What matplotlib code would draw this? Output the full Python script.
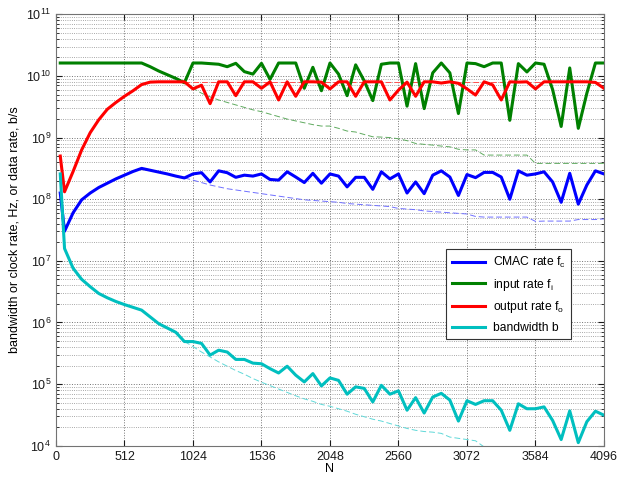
import numpy as np
import matplotlib
matplotlib.use('Agg')
import matplotlib.pyplot as plt
from matplotlib.ticker import LogLocator, NullFormatter

plt.rcParams['font.family'] = ['Liberation Sans', 'DejaVu Sans']
plt.rcParams['mathtext.default'] = 'regular'

## ---------------------------- data (log10 of rate) ---------------------------- ##
N = [32] + [64 * k for k in range(1, 65)]

# CMAC rate f_c
fc_log = [8.10, 7.48, 7.78, 7.99, 8.10, 8.19, 8.26, 8.33, 8.39, 8.45, 8.50,
          8.47, 8.44, 8.41, 8.375, 8.345, 8.41, 8.43, 8.28, 8.46, 8.43,
          8.355, 8.39, 8.375, 8.41, 8.32, 8.31, 8.445, 8.36, 8.27, 8.42,
          8.26, 8.41, 8.375, 8.20, 8.355, 8.355, 8.16, 8.445, 8.33, 8.41,
          8.10, 8.28, 8.09, 8.39, 8.46, 8.36, 8.06, 8.40, 8.35, 8.435,
          8.435, 8.36, 8.00, 8.46, 8.39, 8.41, 8.445, 8.28, 7.95, 8.42,
          7.92, 8.23, 8.46, 8.41]

# input rate f_i
fi_log = [10.21, 10.21, 10.21, 10.21, 10.21, 10.21, 10.21, 10.21, 10.21, 10.21, 10.21,
          10.15, 10.08, 10.02, 9.96, 9.89, 10.21, 10.21, 10.20, 10.19, 10.15,
          10.205, 10.07, 10.03, 10.205, 9.945, 10.21, 10.21, 10.21, 9.80, 10.14,
          9.76, 10.21, 10.03, 9.68, 10.18, 9.92, 9.60, 10.19, 10.21, 10.21,
          9.51, 10.20, 9.47, 10.05, 10.21, 10.05, 9.39, 10.21, 10.20, 10.15,
          10.21, 10.21, 9.28, 10.20, 10.065, 10.21, 10.19, 9.78, 9.18, 10.13,
          9.15, 9.72, 10.21, 10.21]

# output rate f_o
fo_log = [8.70, 8.12, 8.45, 8.80, 9.08, 9.29, 9.46, 9.57, 9.67, 9.76, 9.86,
          9.90, 9.905, 9.905, 9.905, 9.905, 9.79, 9.85, 9.55, 9.905, 9.905,
          9.68, 9.905, 9.905, 9.80, 9.905, 9.61, 9.905, 9.67, 9.905, 9.905,
          9.90, 9.79, 9.905, 9.905, 9.67, 9.905, 9.905, 9.905, 9.61, 9.77,
          9.90, 9.67, 9.905, 9.905, 9.885, 9.905, 9.88, 9.79, 9.69, 9.905,
          9.855, 9.61, 9.905, 9.90, 9.905, 9.79, 9.905, 9.905, 9.905, 9.905,
          9.905, 9.905, 9.895, 9.80]

# bandwidth b
bw_log = [8.41, 7.20, 6.88, 6.70, 6.58, 6.47, 6.40, 6.34, 6.29, 6.245, 6.20,
          6.09, 5.98, 5.91, 5.84, 5.69, 5.69, 5.66, 5.47, 5.55, 5.52,
          5.40, 5.40, 5.34, 5.33, 5.25, 5.18, 5.29, 5.145, 5.035, 5.17,
          4.97, 5.10, 5.06, 4.836, 4.955, 4.93, 4.71, 4.98, 4.836, 4.89,
          4.576, 4.78, 4.53, 4.79, 4.85, 4.74, 4.40, 4.73, 4.67, 4.73,
          4.73, 4.576, 4.25, 4.68, 4.60, 4.60, 4.63, 4.41, 4.10, 4.565,
          4.05, 4.39, 4.56, 4.495]

# thin dashed reference curves, N = 960 ... 4096
Nd = [64 * k for k in range(15, 65)]
fc_d_log = [8.345, 8.31, 8.27, 8.23, 8.20, 8.17, 8.15, 8.13, 8.11, 8.09,
            8.07, 8.05, 8.03, 8.01, 7.99, 7.98, 7.97, 7.96, 7.95, 7.93,
            7.92, 7.91, 7.90, 7.89, 7.88, 7.85, 7.84, 7.83, 7.81, 7.80,
            7.79, 7.78, 7.77, 7.76, 7.72, 7.71, 7.71, 7.71, 7.71, 7.71,
            7.71, 7.64, 7.645, 7.645, 7.645, 7.645, 7.67, 7.67, 7.67, 7.68]
fi_d_log = [9.89, 9.80, 9.72, 9.66, 9.61, 9.57, 9.53, 9.49, 9.45, 9.42,
            9.38, 9.34, 9.30, 9.27, 9.24, 9.21, 9.187, 9.187, 9.15, 9.106,
            9.09, 9.05, 9.013, 9.008, 9.0, 8.98, 8.95, 8.905, 8.89, 8.878,
            8.862, 8.85, 8.81, 8.80, 8.80, 8.716, 8.716, 8.716, 8.716, 8.716,
            8.716, 8.581, 8.581, 8.581, 8.581, 8.581, 8.581, 8.581, 8.581, 8.581]
fo_d_log = [9.905] * 50
bw_d_log = [5.69, 5.61, 5.52, 5.44, 5.36, 5.29, 5.22, 5.16, 5.09, 5.03,
            4.975, 4.92, 4.865, 4.81, 4.76, 4.72, 4.67, 4.64, 4.60, 4.56,
            4.51, 4.47, 4.43, 4.40, 4.36, 4.32, 4.28, 4.25, 4.23, 4.22,
            4.20, 4.14, 4.12, 4.10, 4.08, 3.98, 3.9, 3.8, 3.7, 3.6,
            3.5, 3.4, 3.3, 3.2, 3.1, 3.0, 2.9, 2.8, 2.7, 2.6]

labels = ['CMAC rate $f_c$', 'input rate $f_i$', 'output rate $f_o$', 'bandwidth b']
colors = ['#0000ff', '#008000', '#ff0000', '#00bfbf']
dash_colors = ['#6f6fff', '#5faa5f', '#ff5050', '#5fd8d8']

## ---------------------------- plot ---------------------------- ##
fig = plt.figure(figsize=(6.39, 4.79), dpi=100)
ax = fig.add_axes([0.0876, 0.0695, 0.8576, 0.9006])

solid = [fc_log, fi_log, fo_log, bw_log]
dashed = [fc_d_log, fi_d_log, fo_d_log, bw_d_log]

for d, c in zip(dashed, dash_colors):
    ax.semilogy(Nd, np.power(10.0, d), '--', color=c, linewidth=0.7, dashes=(6, 3))
for s, c, lab in zip(solid, colors, labels):
    ax.semilogy(N, np.power(10.0, s), '-', color=c, linewidth=2.2, label=lab)

ax.set_xlim(0, 4096)
ax.set_ylim(1e4, 1e11)
ax.set_xticks(np.arange(0, 4097, 512))
ax.yaxis.set_major_locator(LogLocator(base=10, numticks=20))
ax.yaxis.set_minor_locator(LogLocator(base=10, subs=np.arange(2, 10), numticks=100))
ax.yaxis.set_minor_formatter(NullFormatter())

ax.grid(True, which='major', linestyle=':', color='0.45', linewidth=0.7)
ax.grid(True, which='minor', axis='y', linestyle=':', color='0.55', linewidth=0.6)
ax.tick_params(which='both', direction='in', top=True, right=True, labelsize=9, colors='0.1')
ax.tick_params(which='major', length=4)
ax.tick_params(which='minor', length=2)
for sp in ax.spines.values():
    sp.set_color('0.45')

ax.set_xlabel('N', fontsize=9, labelpad=0)
ax.set_ylabel('bandwidth or clock rate, Hz, or data rate, b/s', fontsize=9, labelpad=4)

leg = ax.legend(loc='upper left', bbox_to_anchor=(0.712, 0.455), fontsize=8.7,
                fancybox=False, framealpha=1, edgecolor='0.2', borderpad=0.45,
                handlelength=2.8, handletextpad=0.6, labelspacing=0.55,
                borderaxespad=0)
leg.get_frame().set_linewidth(0.8)

plt.savefig('out.png', dpi=100)
